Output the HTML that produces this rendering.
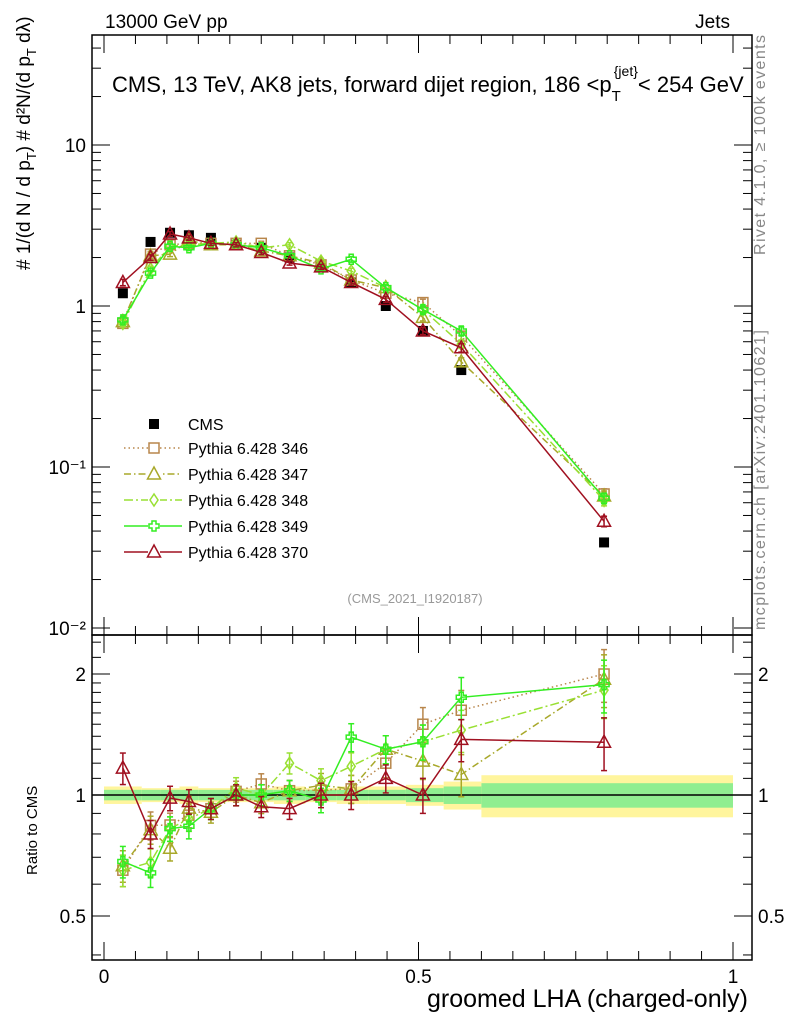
<!DOCTYPE html>
<html><head><meta charset="utf-8"><style>
body{margin:0;background:#fff;}
svg{display:block;font-family:"Liberation Sans",sans-serif;}
</style></head><body>
<svg id="c" width="786" height="1024" viewBox="0 0 786 1024">
<rect x="0" y="0" width="786" height="1024" fill="#fff"/>
<g id="bands"></g>
<g id="frames"></g>
<g id="marks"></g>
<g id="labels">
<text x="105" y="28" font-size="19">13000 GeV pp</text>
<text x="730" y="28" font-size="19" text-anchor="end">Jets</text>
<text x="112" y="92" font-size="22">CMS, 13 TeV, AK8 jets, forward dijet region, 186 &lt;p<tspan font-size="15" dy="9">T</tspan><tspan font-size="14" dy="-25" dx="-7">{jet}</tspan><tspan dy="16">&lt; 254 GeV</tspan></text>
<text x="415" y="603" font-size="13" fill="#999" text-anchor="middle">(CMS_2021_I1920187)</text>
<text transform="translate(765,255) rotate(-90)" font-size="16" fill="#888" textLength="220">Rivet 4.1.0, ≥ 100k events</text>
<text transform="translate(765,630) rotate(-90)" font-size="16" fill="#888" textLength="300">mcplots.cern.ch [arXiv:2401.10621]</text>
<text transform="translate(30,270) rotate(-90)" font-size="19">#  1/(d N / d p<tspan font-size="13" dy="6">T</tspan><tspan dy="-6">) # d²N/(d p</tspan><tspan font-size="13" dy="6">T</tspan><tspan dy="-6"> dλ)</tspan></text>
<text transform="translate(37,875) rotate(-90)" font-size="15">Ratio to CMS</text>
<text x="748" y="1007" font-size="25" text-anchor="end">groomed LHA (charged-only)</text>
</g>
<g id="legend"></g>
</svg>
<script>
const xCenters=[0.03,0.074,0.105,0.135,0.17,0.21,0.25,0.295,0.345,0.393,0.448,0.507,0.568,0.795];
const binEdges=[0,0.06,0.09,0.12,0.15,0.19,0.23,0.27,0.32,0.37,0.42,0.48,0.54,0.6,1.0];
const cms=[1.2,2.5,2.85,2.75,2.65,2.4,2.3,2.0,1.75,1.4,1.0,0.7,0.4,0.034];
const cmsErrIn=[0.03,0.03,0.03,0.03,0.03,0.03,0.03,0.03,0.03,0.03,0.03,0.04,0.05,0.07];
const cmsErrOut=[0.05,0.04,0.04,0.05,0.04,0.04,0.04,0.05,0.04,0.05,0.05,0.06,0.08,0.12];
const s346=[0.78,2.1,2.4,2.45,2.45,2.45,2.45,2.05,1.8,1.45,1.2,1.05,0.65,0.068];
const s347=[0.8,2.05,2.1,2.55,2.4,2.4,2.2,2.05,1.85,1.45,1.3,0.85,0.45,0.066];
const s348=[0.78,1.7,2.35,2.4,2.45,2.5,2.3,2.4,1.9,1.65,1.3,0.95,0.58,0.062];
const s349=[0.82,1.6,2.35,2.3,2.45,2.4,2.3,2.05,1.7,1.95,1.3,0.95,0.7,0.064];
const s370=[1.4,2.0,2.8,2.65,2.45,2.4,2.15,1.85,1.75,1.4,1.1,0.7,0.55,0.046];
const relErr=[0.09,0.08,0.07,0.07,0.06,0.06,0.06,0.06,0.07,0.08,0.08,0.1,0.12,0.15];
const yTicks=[0.01,0.1,1,10];
const yTickLabels=["10⁻²","10⁻¹","1","10"];
const rTicks=[0.5,1,2];
const xTicks=[0,0.5,1];

const NS="http://www.w3.org/2000/svg";
function el(tag,attrs,parent){const e=document.createElementNS(NS,tag);for(const k in attrs)e.setAttribute(k,attrs[k]);parent.appendChild(e);return e;}
const X=v=>104+629*v;
const Y=v=>306-161*Math.log10(v);
const R=v=>795-121*Math.log2(v);
const L=92,Rt=752,T1=35,B1=635,B2=960;
const bands=document.getElementById('bands'),frames=document.getElementById('frames'),marks=document.getElementById('marks'),legend=document.getElementById('legend');

for(let i=0;i<cms.length;i++){
 const x0=X(binEdges[i]),x1=X(binEdges[i+1]);
 const yb=el('rect',{x:x0,y:R(1+cmsErrOut[i]),width:x1-x0,height:R(1-cmsErrOut[i])-R(1+cmsErrOut[i]),fill:'#fff59d'},bands);
 
 
 const gb=el('rect',{x:x0,y:R(1+cmsErrIn[i]),width:x1-x0,height:R(1-cmsErrIn[i])-R(1+cmsErrIn[i]),fill:'#90ee90'},bands);
 
 
}
el('line',{x1:L,x2:Rt,y1:R(1),y2:R(1),stroke:'#000','stroke-width':1.5},bands);

el('rect',{x:L,y:T1,width:Rt-L,height:B1-T1,fill:'none',stroke:'#000','stroke-width':1.5},frames);
el('rect',{x:L,y:B1,width:Rt-L,height:B2-B1,fill:'none',stroke:'#000','stroke-width':1.5},frames);
for(let d=-2;d<=1;d++){for(let m=1;m<10;m++){const v=m*Math.pow(10,d);const y=Y(v);if(y<T1||y>B1)continue;const len=m==1?18:9;
 el('line',{x1:L,x2:L+len,y1:y,y2:y,stroke:'#000'},frames);el('line',{x1:Rt,x2:Rt-len,y1:y,y2:y,stroke:'#000'},frames);}}
yTicks.forEach((v,i)=>{const t=el('text',{x:L-6,y:Y(v)+7,'font-size':19,'text-anchor':'end'},frames);t.textContent=yTickLabels[i];
 
 });
[0.4,0.5,0.6,0.7,0.8,0.9,1,1.1,1.2,1.3,1.4,1.5,1.6,1.7,1.8,1.9,2,2.2,2.4].forEach(v=>{const y=R(v);if(y<B1||y>B2)return;const big=rTicks.includes(v);const len=big?18:9;
 el('line',{x1:L,x2:L+len,y1:y,y2:y,stroke:'#000'},frames);el('line',{x1:Rt,x2:Rt-len,y1:y,y2:y,stroke:'#000'},frames);});
rTicks.forEach(v=>{[[L-6,'end'],[Rt+6,'start']].forEach(([x,a])=>{const t=el('text',{x:x,y:R(v)+7,'font-size':19,'text-anchor':a},frames);t.textContent=String(v);
 
 });});
for(let k=0;k<=20;k++){const v=k*0.05;const x=X(v);const big=k%10==0;const len=big?18:9;
 el('line',{x1:x,x2:x,y1:B2,y2:B2-len,stroke:'#000'},frames);el('line',{x1:x,x2:x,y1:B1,y2:B1-len,stroke:'#000'},frames);
 el('line',{x1:x,x2:x,y1:B1,y2:B1+len,stroke:'#000'},frames);el('line',{x1:x,x2:x,y1:T1,y2:T1+len,stroke:'#000'},frames);}
xTicks.forEach(v=>{const t=el('text',{x:X(v),y:983,'font-size':19,'text-anchor':'middle'},frames);t.textContent=String(v);
 
 });

function marker(g,type,x,y,c,s){
 if(type=='fsq')el('rect',{x:x-5,y:y-5,width:10,height:10,fill:c},g);
 else if(type=='sq')el('rect',{x:x-5,y:y-5,width:10,height:10,fill:'none',stroke:c,'stroke-width':1.5},g);
 else if(type=='tri')el('polygon',{points:`${x},${y-7} ${x-6.5},${y+5} ${x+6.5},${y+5}`,fill:'none',stroke:c,'stroke-width':s||1.5},g);
 else if(type=='dia')el('polygon',{points:`${x},${y-6} ${x-4},${y} ${x},${y+6} ${x+4},${y}`,fill:'none',stroke:c,'stroke-width':1.5},g);
 else if(type=='cross')el('path',{d:`M${x-2},${y-5}h4v3h3v4h-3v3h-4v-3h-3v-4h3z`,fill:'none',stroke:c,'stroke-width':1.5},g);
}
const series=[
 {name:'Pythia 6.428 346',d:s346,c:'#b8864b',dash:'1.5,3',m:'sq',id:'series-346'},
 {name:'Pythia 6.428 347',d:s347,c:'#a8a82a',dash:'7,3,1.5,3',m:'tri',id:'series-347'},
 {name:'Pythia 6.428 348',d:s348,c:'#99e033',dash:'9,3,2,3',m:'dia',id:'series-348'},
 {name:'Pythia 6.428 349',d:s349,c:'#33ee22',dash:'',m:'cross',id:'series-349'},
 {name:'Pythia 6.428 370',d:s370,c:'#a01020',dash:'',m:'tri',id:'series-370'}];

const gc=el('g',{},marks);


cms.forEach((v,i)=>marker(gc,'fsq',X(xCenters[i]),Y(v),'#000'));

series.forEach(s=>{
 const g=el('g',{},marks);
 
 
 const pm=s.d.map((v,i)=>X(xCenters[i])+','+Y(v)).join(' ');
 el('polyline',{points:pm,fill:'none',stroke:s.c,'stroke-width':1.5,'stroke-dasharray':s.dash},g);
 const rv=s.d.map((v,i)=>v/cms[i]);
 const pr=rv.map((v,i)=>X(xCenters[i])+','+R(v)).join(' ');
 el('polyline',{points:pr,fill:'none',stroke:s.c,'stroke-width':1.5,'stroke-dasharray':s.dash},g);
 s.d.forEach((v,i)=>{const x=X(xCenters[i]);
  [[Y(v),Y(v*(1+relErr[i]*0.5)),Y(v*(1-relErr[i]*0.5))],[R(rv[i]),R(rv[i]*(1+relErr[i])),R(rv[i]*(1-relErr[i]))]].forEach(([y,yt,yb])=>{
   el('line',{x1:x,x2:x,y1:yt,y2:yb,stroke:s.c,'stroke-width':1.5},g);
   el('line',{x1:x-3,x2:x+3,y1:yt,y2:yt,stroke:s.c,'stroke-width':1.5},g);
   el('line',{x1:x-3,x2:x+3,y1:yb,y2:yb,stroke:s.c,'stroke-width':1.5},g);
   marker(g,s.m,x,y,s.c);});
 });
});

const lg=el('g',{},legend);


marker(lg,'fsq',154,424,'#000');
const lt=el('text',{x:188,y:430,'font-size':16},lg);lt.textContent='CMS';
series.forEach((s,i)=>{const y=448+i*26;
 const g=el('g',{},legend);
 
 
 el('line',{x1:124,x2:182,y1:y,y2:y,stroke:s.c,'stroke-width':1.5,'stroke-dasharray':s.dash},g);
 el('rect',{x:148,y:y-6,width:12,height:12,fill:'#fff'},g);
 marker(g,s.m,154,y,s.c);
 const t=el('text',{x:188,y:y+6,'font-size':16},g);t.textContent=s.name;});
</script>
</body></html>
